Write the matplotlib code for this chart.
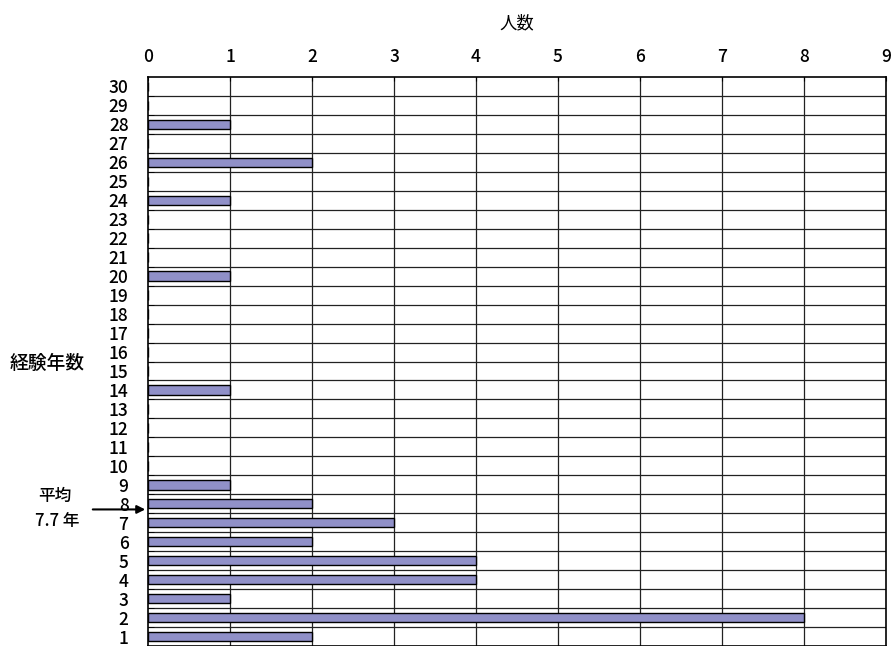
import matplotlib
matplotlib.use("Agg")
import matplotlib.pyplot as plt
from matplotlib.ticker import FixedLocator

plt.rcParams['font.family'] = ['Noto Sans CJK JP', 'DejaVu Sans']
plt.rcParams['font.weight'] = 'medium'

# 経験年数ごとの人数
anos = list(range(1, 31))
personas = {28: 1, 26: 2, 24: 1, 20: 1, 14: 1, 9: 1, 8: 2, 7: 3,
            6: 2, 5: 4, 4: 4, 3: 1, 2: 8, 1: 2}
valores = [personas.get(a, 0) for a in anos]
promedio = 7.7
x_ticks = list(range(0, 10))

W, H = 892, 646
fig = plt.figure(figsize=(W / 100, H / 100), dpi=100)
ax = fig.add_axes([148 / W, 0 / H, 738 / W, 569 / H])

ax.barh(anos, valores, height=0.5, color='#9090c8', edgecolor='black', linewidth=1, zorder=3)

ax.set_xlim(0, 9)
ax.set_ylim(0.5, 30.5)

# eje x arriba
ax.xaxis.tick_top()
ax.xaxis.set_label_position('top')
ax.set_xticks(x_ticks)
ax.tick_params(axis='x', direction='in', length=3, pad=8, labelsize=12.5)
ax.set_xlabel('人数', fontsize=12.5, labelpad=14)

# eje y: etiquetas en el centro, lineas en los limites
ax.set_yticks(anos)
ax.set_yticklabels([str(a) for a in anos])
ax.tick_params(axis='y', length=0, pad=14, labelsize=12.5)
ax.yaxis.set_minor_locator(FixedLocator([a + 0.5 for a in anos[:-1]]))
ax.tick_params(axis='y', which='minor', direction='in', length=4)

for a in anos[:-1]:
    ax.axhline(a + 0.5, color='#222222', linewidth=0.9, zorder=1)
for x in x_ticks[1:-1]:
    ax.axvline(x, color='#222222', linewidth=0.9, zorder=1)

for s in ax.spines.values():
    s.set_linewidth(1.2)

fig.text(10 / W, 1 - 363 / H, '経験年数', fontsize=13.5, va='center', ha='left')
fig.text(38 / W, 1 - 496 / H, '平均', fontsize=12, va='center', ha='left')
fig.text(35 / W, 1 - 521 / H, '7.7 年', fontsize=12, va='center', ha='left')
ax.annotate('', xy=(0, promedio), xycoords='data',
            xytext=(-58, 0), textcoords='offset pixels',
            arrowprops=dict(arrowstyle='-|>', color='black', lw=1.5, mutation_scale=12),
            annotation_clip=False)

fig.savefig('out.png', dpi=100)
